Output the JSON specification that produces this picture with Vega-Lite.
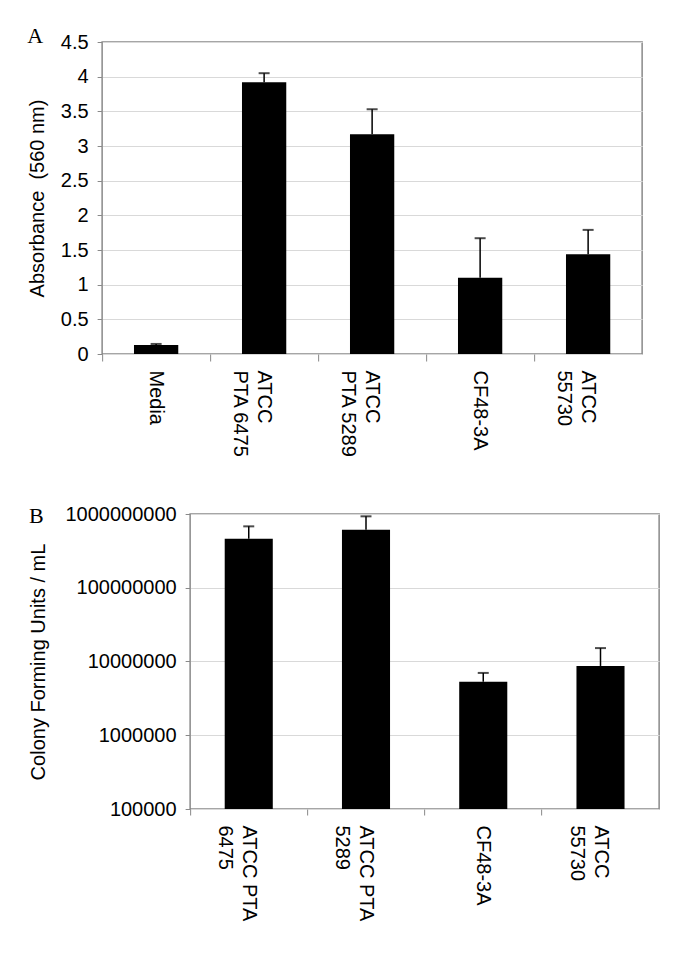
{
  "$schema": "https://vega.github.io/schema/vega-lite/v6.json",
  "background": "white",
  "padding": {"left": 26, "top": 24, "right": -60, "bottom": 5},
  "autosize": {"type": "pad"},
  "spacing": 44,
  "center": true,
  "config": {
    "font": "Liberation Sans",
    "view": {"stroke": "#898989", "strokeWidth": 1.5},
    "axis": {
      "labelFont": "Liberation Sans", "labelFontSize": 20, "labelColor": "black",
      "titleFont": "Liberation Sans", "titleFontSize": 20, "titleFontWeight": "normal", "titleColor": "black",
      "tickColor": "#898989", "gridColor": "#d9d9d9", "gridWidth": 1, "domain": false
    },
    "title": {"font": "Liberation Serif", "fontSize": 22, "fontWeight": "normal", "color": "black"}
  },
  "vconcat": [
    {
      "width": 540, "height": 312,
      "title": {"text": "A", "anchor": "start", "frame": "bounds", "offset": -33, "baseline": "alphabetic"},
      "data": {"values": [
        {"strain": "Media", "mean": 0.13, "upper": 0.145},
        {"strain": "ATCC PTA 6475", "mean": 3.92, "upper": 4.05},
        {"strain": "ATCC PTA 5289", "mean": 3.17, "upper": 3.53},
        {"strain": "CF48-3A", "mean": 1.10, "upper": 1.67},
        {"strain": "ATCC 55730", "mean": 1.44, "upper": 1.79}
      ]},
      "encoding": {
        "x": {"field": "strain", "type": "nominal", "sort": null,
          "scale": {"paddingInner": 0, "paddingOuter": 0},
          "axis": {"title": null, "labelAngle": 90, "labelAlign": "left", "labelBaseline": "middle",
            "bandPosition": 0, "tickSize": 7, "labelPadding": 9, "labelLineHeight": 24, "labelOverlap": false,
            "labelExpr": "indexof(datum.label, 'PTA') > 0 ? ['ATCC', substring(datum.label, 5)] : split(datum.label, ' ')"}}
      },
      "resolve": {"scale": {"y": "independent"}, "axis": {"y": "independent"}},
      "layer": [
        {"mark": {"type": "bar", "color": "black", "width": {"band": 0.41}},
          "encoding": {"y": {"field": "mean", "type": "quantitative",
            "scale": {"domain": [0, 4.5], "nice": false},
            "axis": {"orient": "left", "title": "Absorbance \u00a0(560 nm)", "values": [0, 0.5, 1, 1.5, 2, 2.5, 3, 3.5, 4, 4.5],
              "format": "~g", "tickSize": 5, "labelPadding": 9, "titlePadding": 13, "labelOverlap": false}}}},
        {"mark": {"type": "rule", "color": "black", "strokeWidth": 1.5},
          "encoding": {"y": {"field": "mean", "type": "quantitative",
            "scale": {"domain": [0, 4.5], "nice": false}, "axis": null},
            "y2": {"field": "upper"}}},
        {"mark": {"type": "tick", "color": "black", "thickness": 2, "size": 11},
          "encoding": {"y": {"field": "upper", "type": "quantitative",
            "scale": {"domain": [0, 4.5], "nice": false},
            "axis": {"orient": "right", "title": null, "labels": false, "ticks": false, "grid": false, "domain": false,
              "minExtent": 105, "maxExtent": 105}}}}
      ]
    },
    {
      "width": 469, "height": 295,
      "title": {"text": "B", "anchor": "start", "frame": "bounds", "offset": -41, "baseline": "alphabetic"},
      "data": {"values": [
        {"strain": "ATCC PTA 6475", "mean": 460000000, "upper": 680000000},
        {"strain": "ATCC PTA 5289", "mean": 610000000, "upper": 930000000},
        {"strain": "CF48-3A", "mean": 5300000, "upper": 7000000},
        {"strain": "ATCC 55730", "mean": 8700000, "upper": 15200000}
      ]},
      "encoding": {
        "x": {"field": "strain", "type": "nominal", "sort": null,
          "scale": {"paddingInner": 0, "paddingOuter": 0},
          "axis": {"title": null, "labelAngle": 90, "labelAlign": "left", "labelBaseline": "middle",
            "bandPosition": 0, "tickSize": 6, "labelPadding": 10, "labelLineHeight": 24, "labelOverlap": false,
            "labelExpr": "indexof(datum.label, 'PTA') > 0 ? ['ATCC PTA', substring(datum.label, 9)] : split(datum.label, ' ')"}}
      },
      "layer": [
        {"mark": {"type": "bar", "color": "black", "width": {"band": 0.41}},
          "encoding": {"y": {"field": "mean", "type": "quantitative",
            "scale": {"type": "log", "domain": [100000, 1000000000], "nice": false},
            "axis": {"title": "Colony Forming Units / mL", "values": [100000, 1000000, 10000000, 100000000, 1000000000],
              "format": "d", "tickSize": 5, "labelPadding": 9, "titlePadding": 16, "labelOverlap": false}},
            "y2": {"datum": 100000}}},
        {"mark": {"type": "rule", "color": "black", "strokeWidth": 1.5},
          "encoding": {"y": {"field": "mean", "type": "quantitative",
            "axis": {"title": "Colony Forming Units / mL", "values": [100000, 1000000, 10000000, 100000000, 1000000000],
              "format": "d", "tickSize": 5, "labelPadding": 9, "titlePadding": 16, "labelOverlap": false}},
            "y2": {"field": "upper"}}},
        {"mark": {"type": "tick", "color": "black", "thickness": 2, "size": 11},
          "encoding": {"y": {"field": "upper", "type": "quantitative",
            "axis": {"title": "Colony Forming Units / mL", "values": [100000, 1000000, 10000000, 100000000, 1000000000],
              "format": "d", "tickSize": 5, "labelPadding": 9, "titlePadding": 16, "labelOverlap": false}}}}
      ]
    }
  ]
}
